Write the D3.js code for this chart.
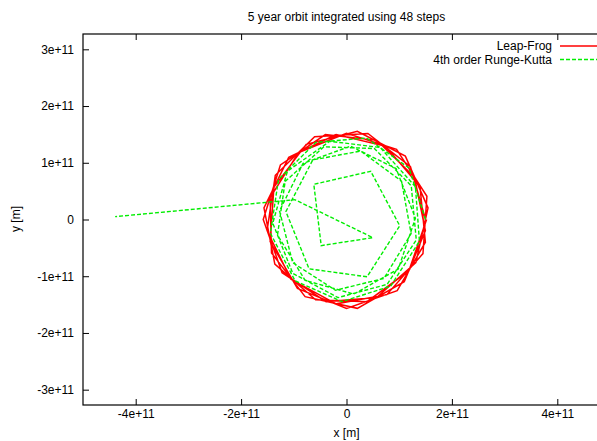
<!DOCTYPE html>
<html>
<head>
<meta charset="utf-8">
<script src="https://cdn.jsdelivr.net/npm/d3@7"></script>
<style>
  body { margin: 0; background: #fff; overflow: hidden; }
  text { font-family: "Liberation Sans", Arial, Helvetica, sans-serif; font-size: 12px; fill: #000; }
</style>
</head>
<body>
<svg id="chart"></svg>
<script>
// Leap-Frog orbit, units of 1e11 m
var leapX = [1.50, 1.214, 0.406, -0.605, -1.351, -1.507, -1.054, -0.196, 0.765, 1.451,
  1.526, 0.950, 0.00, -0.907, -1.449, -1.423, -0.785, 0.206, 1.096, 1.497,
  1.290, 0.578, -0.401, -1.254, -1.58, -1.222, -0.388, 0.570, 1.316, 1.547,
  1.117, 0.205, -0.765, -1.377, -1.449, -0.931, 0.00, 0.962, 1.497, 1.395,
  0.745, -0.197, -1.096, -1.566, -1.360, -0.586, 0.388, 1.182, 1.52];
var leapY = [0.00, 0.931, 1.517, 1.460, 0.780, -0.198, -1.054, -1.487, -1.325, -0.601,
  0.409, 1.238, 1.52, 1.182, 0.388, -0.589, -1.360, -1.566, -1.096, -0.197,
  0.745, 1.395, 1.497, 0.962, 0.00, -0.938, -1.449, -1.377, -0.760, 0.204,
  1.117, 1.556, 1.325, 0.570, -0.388, -1.214, -1.57, -1.254, -0.401, 0.578,
  1.290, 1.497, 1.096, 0.206, -0.785, -1.414, -1.449, -0.907, 0.00];

// 4th order Runge-Kutta orbit, units of 1e11 m
var rkX = [1.500, 1.185, 0.380, -0.580, -1.290, -1.444, -0.976, -0.086, 0.838, 1.384,
  1.308, 0.641, -0.316, -1.120, -1.399, -1.019, -0.159, 0.771, 1.324, 1.229,
  0.528, -0.429, -1.164, -1.309, -0.785, 0.138, 0.983, 1.308, 0.941, 0.075,
  -0.824, -1.271, -1.021, -0.209, 0.711, 1.226, 1.044, 0.270, -0.64, -1.15,
  -0.71, 0.39, 1.01, 0.46, -0.62, -0.48, 0.50, -0.98, -4.39];
var rkY = [0.000, 0.909, 1.437, 1.360, 0.709, -0.242, -1.081, -1.447, -1.175, -0.384,
  0.577, 1.269, 1.379, 0.853, -0.066, -0.950, -1.377, -1.143, -0.360, 0.594,
  1.251, 1.281, 0.672, -0.273, -1.073, -1.315, -0.873, 0.023, 0.899, 1.292,
  0.989, 0.152, -0.761, -1.248, -1.038, -0.249, 0.676, 1.207, 1.05, 0.14,
  -0.87, -1.01, -0.11, 0.85, 0.62, -0.46, -0.32, 0.35, 0.05];

var xTicks = [-4e11, -2e11, 0, 2e11, 4e11];
var yTicks = [-3e11, -2e11, -1e11, 0, 1e11, 2e11, 3e11];
var seriesNames = ["Leap-Frog", "4th order Runge-Kutta"];

var width = 597, height = 441;
var plot = {left: 83, top: 34, right: 610, bottom: 405};

var svg = d3.select("#chart")
    .attr("width", width)
    .attr("height", height);

var x = d3.scaleLinear().domain([-5e11, 5e11]).range([plot.left, plot.right]);
var y = d3.scaleLinear().domain([-3.27e11, 3.27e11]).range([plot.bottom, plot.top]);

function fmt(v) {
  if (v == 0) return "0";
  return (v / 1e11) + "e+11";
}

// ticks, gnuplot style (inward, mirrored)
var tickLen = 6;
svg.append("g")
    .attr("transform", "translate(0," + plot.bottom + ")")
    .call(d3.axisBottom(x).tickValues(xTicks).tickSize(-tickLen).tickPadding(4).tickFormat(fmt))
    .call(g => g.select(".domain").remove());
svg.append("g")
    .attr("transform", "translate(0," + plot.top + ")")
    .call(d3.axisTop(x).tickValues(xTicks).tickSize(-tickLen).tickFormat(""))
    .call(g => g.select(".domain").remove());
svg.append("g")
    .attr("transform", "translate(" + plot.left + ",0)")
    .call(d3.axisLeft(y).tickValues(yTicks).tickSize(-tickLen).tickPadding(9).tickFormat(fmt))
    .call(g => g.select(".domain").remove());

svg.selectAll(".tick line").attr("stroke", "#000").attr("stroke-width", 1);
svg.selectAll(".tick text")
    .style("font-family", "'Liberation Sans', Arial, sans-serif")
    .style("font-size", "12px")
    .attr("fill", "#000");

// frame
svg.append("rect")
    .attr("x", plot.left).attr("y", plot.top)
    .attr("width", plot.right - plot.left).attr("height", plot.bottom - plot.top)
    .attr("fill", "none").attr("stroke", "#000").attr("stroke-width", 1.2);

// lines
var leapData = leapX.map((v, i) => [v * 1e11, leapY[i] * 1e11]);
var rkData = rkX.map((v, i) => [v * 1e11, rkY[i] * 1e11]);
var line = d3.line().x(d => x(d[0])).y(d => y(d[1]));

svg.append("path").datum(leapData)
    .attr("d", line).attr("fill", "none")
    .attr("stroke", "#ff0000").attr("stroke-width", 1.5)
    .attr("stroke-linejoin", "miter");
svg.append("path").datum(rkData)
    .attr("d", line).attr("fill", "none")
    .attr("stroke", "#00ee00").attr("stroke-width", 1.4)
    .attr("stroke-dasharray", "4,2");

// legend
var legend = [{name: seriesNames[0], color: "#ff0000", dash: null},
              {name: seriesNames[1], color: "#00ee00", dash: "4,2"}];
legend.forEach(function(d, i) {
  var ly = 46 + i * 13.5;
  svg.append("text").attr("x", 552).attr("y", ly).attr("dy", "0.35em")
      .attr("text-anchor", "end").text(d.name);
  svg.append("line").attr("x1", 560).attr("x2", 600).attr("y1", ly).attr("y2", ly)
      .attr("stroke", d.color).attr("stroke-width", 1.4)
      .attr("stroke-dasharray", d.dash);
});

// titles
svg.append("text").attr("x", 346.5).attr("y", 17).attr("dy", "0.35em")
    .attr("text-anchor", "middle").text("5 year orbit integrated using 48 steps");
svg.append("text").attr("x", 346.5).attr("y", 433).attr("dy", "0.35em")
    .attr("text-anchor", "middle").text("x [m]");
svg.append("text").attr("transform", "translate(16,219) rotate(-90)").attr("dy", "0.35em")
    .attr("text-anchor", "middle").text("y [m]");
</script>
</body>
</html>
